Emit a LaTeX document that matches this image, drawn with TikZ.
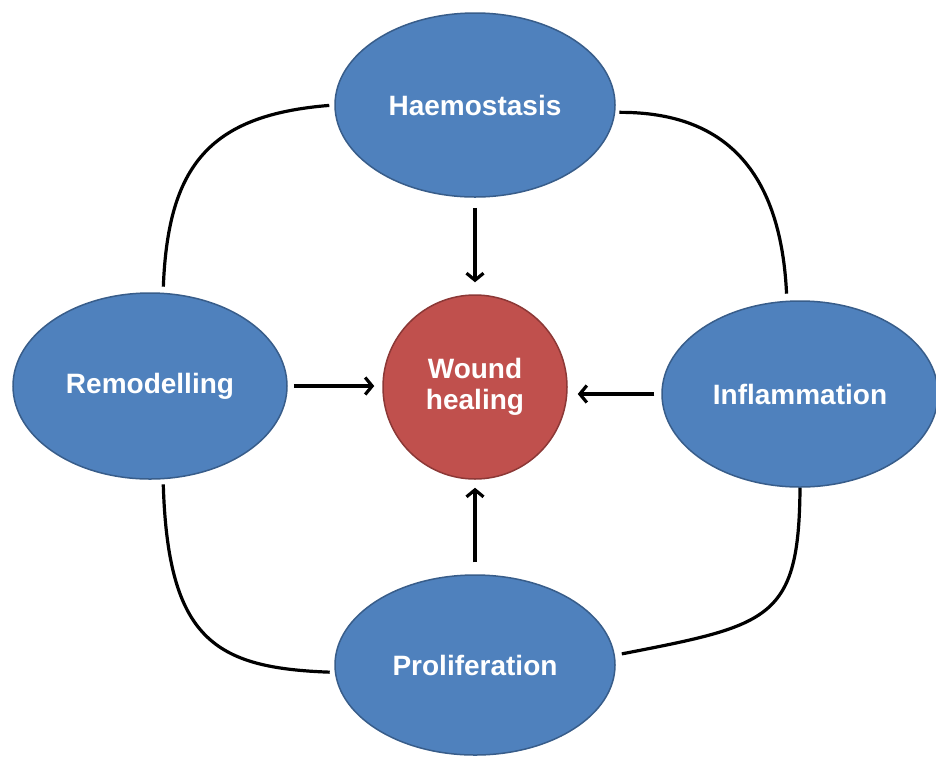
\documentclass[tikz,border=0pt]{standalone}
\usepackage{fontspec}
\setmainfont{Liberation Sans}
\usetikzlibrary{shapes.geometric,arrows.meta}
\definecolor{phaseblue}{HTML}{4F81BD}
\definecolor{phaseedge}{HTML}{385D8A}
\definecolor{woundred}{HTML}{C0504D}
\definecolor{woundedge}{HTML}{8C3836}
\begin{document}
\begin{tikzpicture}[x=1pt,y=-1pt,
  phase/.style={ellipse, fill=phaseblue, draw=phaseedge, line width=1.5pt,
    inner sep=0pt, text=white, font=\fontsize{28}{32}\selectfont\bfseries},
  wound/.style={circle, fill=woundred, draw=woundedge, line width=1.5pt,
    minimum size=184pt, inner sep=0pt, text=white, align=center,
    font=\fontsize{28}{31}\selectfont\bfseries},
  link/.style={line width=3.2pt, black},
  feed/.style={line width=3.2pt, black, -{Straight Barb[length=7pt,width=17pt]}}]
\useasboundingbox (0,0) rectangle (936,756);
\fill[white] (0,0) rectangle (936,756);

\node[phase, minimum width=280pt, minimum height=184pt] (hae) at (475,105) {Haemostasis};
\node[phase, minimum width=274pt, minimum height=186pt] (rem) at (150,386) {Remodelling};
\node[phase, minimum width=276pt, minimum height=186pt] (inf) at (800,394) {Inflammation};
\node[phase, minimum width=280pt, minimum height=180pt] (pro) at (475,665) {Proliferation};
\node[wound] (wh) at (475,387) {Wound\\healing};

% outer ring connectors
\draw[link, shorten <=5pt, shorten >=6pt] (hae.west) .. controls (210,115) and (168,165) .. (rem.82);
\draw[link, shorten <=4pt, shorten >=7pt] (hae.-3) .. controls (710,112) and (780,155) .. (inf.98);
\draw[link, shorten <=5pt, shorten >=5pt] (rem.-82) .. controls (168,640) and (215,668) .. (pro.183);
\draw[link, shorten >=7pt] (inf.south) .. controls (799,620) and (770,625) .. (pro.4);

% arrows into wound healing
\draw[feed, shorten <=10pt, shorten >=12pt] (hae.south) -- (wh.north);
\draw[feed, shorten <=6pt, shorten >=8pt] (rem.east) -- (rem.east -| wh.west);
\draw[feed, shorten <=7pt, shorten >=10pt] (inf.west) -- (inf.west -| wh.east);
\draw[feed, shorten <=12pt, shorten >=8pt] (pro.north) -- (wh.south);
\end{tikzpicture}
\end{document}
